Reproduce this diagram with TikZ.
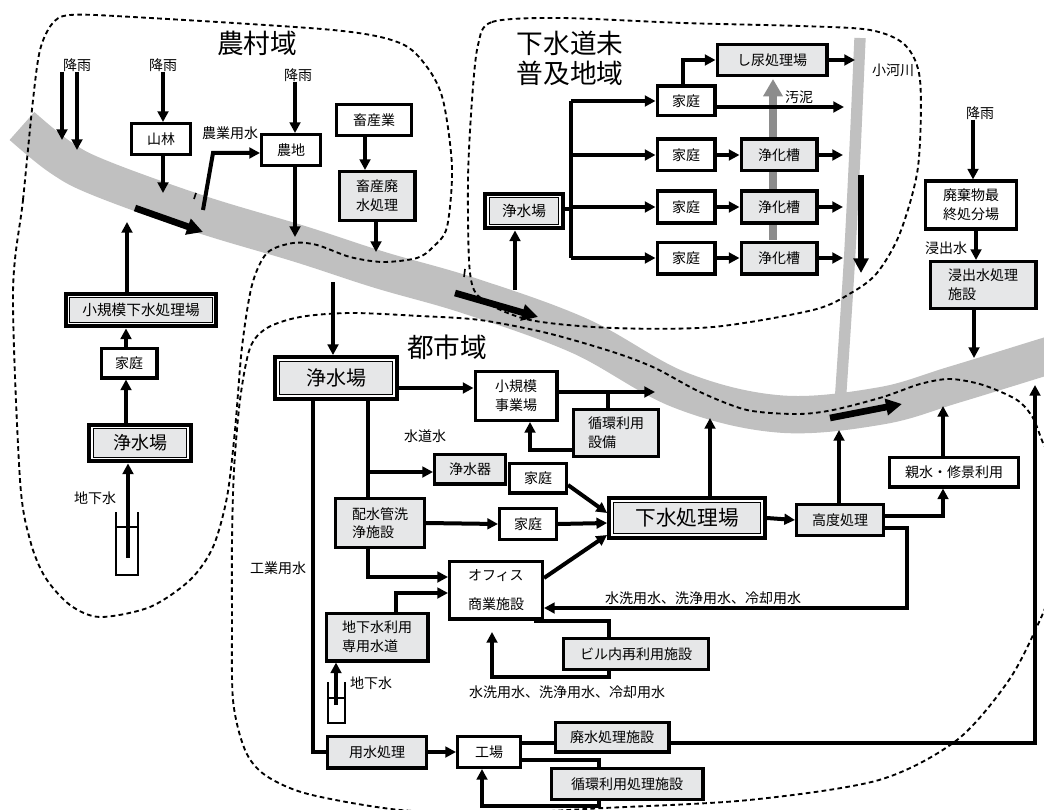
\documentclass[tikz,border=0pt]{standalone}
\usepackage{fontspec}
\setmainfont{Noto Sans CJK JP}
\usetikzlibrary{arrows.meta,calc}
\definecolor{boxgray}{RGB}{230,231,232}
\definecolor{rivergray}{RGB}{192,192,192}
\definecolor{sludgegray}{RGB}{140,140,140}
\tikzset{
  box/.style={draw, line width=2.6pt, inner sep=0pt, align=center, font=\fontsize{10.5}{14}\selectfont},
  wbox/.style={box, fill=white},
  gbox/.style={box, fill=boxgray},
  dbox/.style={gbox, line width=3.2pt, path picture={
      \draw[white,line width=1.2pt] ([shift={(2.2pt,-2.2pt)}]path picture bounding box.north west) rectangle ([shift={(-2.2pt,2.2pt)}]path picture bounding box.south east);
      \draw[black,line width=0.7pt] ([shift={(3.15pt,-3.15pt)}]path picture bounding box.north west) rectangle ([shift={(-3.15pt,3.15pt)}]path picture bounding box.south east);}},
  sz/.style 2 args={minimum width=#1*0.75pt-2.6pt, minimum height=#2*0.75pt-2.6pt},
  lbl/.style={inner sep=0pt, font=\fontsize{10.5}{13}\selectfont},
  ttl/.style={inner sep=0pt, align=left, font=\fontsize{20}{22.5}\selectfont},
  arr/.style={line width=3pt, -{Triangle[length=8pt,width=8pt]}},
  ln/.style={line width=3pt},
  bigarr/.style={line width=5pt, -{Triangle[length=12pt,width=12pt]}},
  bnd/.style={line width=1.4pt, dash pattern=on 3.5pt off 2.5pt},
  wellline/.style={line width=1pt}
}
\begin{document}
\begin{tikzpicture}[x=0.75pt,y=-0.75pt]
\useasboundingbox[fill=white] (0,0) rectangle (1044,809);
% rivers
\draw[rivergray, line width=28pt] plot[smooth, tension=0.6] coordinates {(22,126) (60,157) (100,178) (200,214) (300,244) (380,270) (470,296) (580,336) (680,390) (780,414) (880,406) (953,385) (1044,357) (1064,351)};
\draw[rivergray, line width=8.5pt] plot[smooth] coordinates {(860,38) (855,150) (850,250) (845,330) (840,405)};
% region boundaries
\draw[bnd] plot[smooth cycle] coordinates {(13,293) (23,200) (33,100) (40,50) (52,24) (70,15) (133,17) (333,30) (400,43) (427,67) (443,100) (452,167) (447,227) (433,247) (417,258) (383,262) (350,257) (317,245) (293,243) (267,253) (252,285) (242,347) (235,430) (227,497) (213,547) (190,580) (150,607) (100,617) (70,605) (45,577) (30,540) (20,480)};
\draw[bnd] plot[smooth cycle] coordinates {(478,45) (492,22) (560,18) (683,23) (800,26) (870,30) (905,45) (920,80) (918,167) (900,233) (877,273) (851,293) (813,310) (713,327) (613,328) (530,320) (483,300) (470,273) (468,180) (472,100)};
\draw[bnd] plot[smooth] coordinates {(1060,470) (1044,445) (1033,418) (1017,400) (983,385) (950,379) (920,384) (883,397) (833,410) (797,414) (747,410) (700,392) (655,368) (613,352) (547,333) (480,320) (420,316) (350,313) (300,317) (267,328) (250,348) (240,400) (234,470) (232,540) (232,613) (233,700) (245,750) (265,775) (308,794) (400,810) (500,813) (604,808) (749,800) (879,780) (957,740) (1009,680) (1040,620) (1060,570)};
% sludge arrow (behind boxes)
\draw[sludgegray, line width=6.5pt, -{Triangle[length=13pt,width=14pt]}] (773,240) -- (773,79);
% small ticks
\draw[line width=1.2pt] (196,193) -- (194,199);
\draw[line width=1.2pt] (465,269) -- (464,277);

% ---------- rural ----------
\node[ttl] (t1) at (257,43) {農村域};
\node[lbl] (r1) at (77,65) {降雨};
\node[lbl] (r2) at (163,65) {降雨};
\node[lbl] (r3) at (298,75) {降雨};
\node[lbl] (nouyou) at (230,133) {農業用水};
\node[lbl] (chika1l) at (95,498) {地下水};
\node[wbox, sz={62}{34}] (yama) at (161,139) {山林};
\node[wbox, sz={62}{34}] (nouchi) at (291,150) {農地};
\node[wbox, sz={78}{34}] (chiku) at (374,120) {畜産業};
\node[gbox, sz={79}{52}] (chikuhai) at (377,196) {畜産廃\\水処理};
\node[dbox, sz={154}{36}, font=\fontsize{11}{13}\selectfont] (shoukibo) at (141,310) {小規模下水処理場};
\node[wbox, sz={59}{33}] (katei1) at (129,363) {家庭};
\node[dbox, sz={105}{40}, font=\fontsize{13.5}{16}\selectfont] (jousui1) at (140,443) {浄水場};

\draw[arr] (r1.south -| 62,0) -- (62,140);
\draw[arr] (r1.south -| 77,0) -- (77,150);
\draw[arr] (r2.south -| 163,0) -- (yama.north -| 163,0);
\draw[arr] (yama.south -| 163,0) -- (163,193);
\draw[arr] (203,210) -- (213,153) -- (nouchi.west |- 0,153);
\draw[arr] (r3.south -| 295,0) -- (nouchi.north -| 295,0);
\draw[arr] (nouchi.south -| 295,0) -- (295,237);
\draw[arr] (chiku.south -| 365,0) -- (chikuhai.north -| 365,0);
\draw[arr] (chikuhai.south -| 376,0) -- (376,252);
\draw[arr] (shoukibo.north -| 127,0) -- (127,222);
\draw[arr] (katei1.north -| 126,0) -- (shoukibo.south -| 126,0);
\draw[arr] (jousui1.north -| 126,0) -- (katei1.south -| 126,0);
\draw[wellline] (116,512) -- (116,575) -- (138,575) -- (138,512);
\draw[wellline] (116,527) -- (138,527);
\draw[arr] (128,558) -- (jousui1.south -| 128,0);

% ---------- sewer-less ----------
\node[ttl] (t2) at (570,58) {下水道未\\普及地域};
\node[gbox, sz={113}{34}] (shinyou) at (772,60) {し尿処理場};
\node[wbox, sz={61}{33}] (kateiT) at (686,101) {家庭};
\node[wbox, sz={61}{35}] (kateiR1) at (686,155) {家庭};
\node[gbox, sz={79}{35}] (jokaR1) at (779,155) {浄化槽};
\node[wbox, sz={61}{35}] (kateiR2) at (686,207) {家庭};
\node[gbox, sz={79}{35}] (jokaR2) at (779,207) {浄化槽};
\node[wbox, sz={61}{35}] (kateiR3) at (686,258) {家庭};
\node[gbox, sz={79}{35}] (jokaR3) at (779,258) {浄化槽};
\node[dbox, sz={81}{38}, font=\fontsize{11}{13}\selectfont] (jousui2) at (524,211) {浄水場};
\node[lbl] (oudei) at (799,97) {汚泥};
\node[lbl] (kogawa) at (893,70) {小河川};
\node[lbl] (r4) at (980,113) {降雨};
\node[wbox, sz={94}{51}] (haiki) at (971,205) {廃棄物最\\終処分場};
\node[lbl] (shinshutsul) at (946,248) {浸出水};
\node[gbox, sz={109}{50}, align=left] (shinshutsu) at (983,285) {浸出水処理\\施設};

\draw[ln] (jousui2.east |- 0,209) -- (571,209);
\draw[ln] (571,101) -- (571,258);
\draw[arr] (571,101) -- (kateiT.west);
\draw[arr] (571,155) -- (kateiR1.west);
\draw[arr] (571,207) -- (kateiR2.west);
\draw[arr] (571,258) -- (kateiR3.west);
\draw[arr] (kateiT.north -| 683,0) |- (shinyou.west);
\draw[arr] (kateiT.east |- 0,107) -- (844,107);
\draw[arr] (shinyou.east) -- (855,60);
\draw[arr] (kateiR1.east) -- (jokaR1.west);
\draw[arr] (kateiR2.east) -- (jokaR2.west);
\draw[arr] (kateiR3.east) -- (jokaR3.west);
\draw[arr] (jokaR1.east) -- (843,155);
\draw[arr] (jokaR2.east) -- (843,207);
\draw[arr] (jokaR3.east) -- (843,258);
\draw[arr] (515,290) -- (jousui2.south -| 515,0);
\draw[line width=4pt, -{Triangle[length=11pt,width=11pt]}] (861,175) -- (861,273);
\draw[arr] (r4.south -| 973,0) -- (haiki.north -| 973,0);
\draw[arr] (haiki.south -| 976,0) -- (shinshutsu.north -| 976,0);
\draw[arr] (shinshutsu.south -| 974,0) -- (974,358);

% ---------- urban ----------
\node[ttl] (t3) at (447,347) {都市域};
\node[dbox, sz={125}{45}, font=\fontsize{15}{17}\selectfont] (jousui3) at (336,378) {浄水場};
\node[wbox, sz={85}{52}] (jigyou) at (516,396) {小規模\\事業場};
\node[gbox, sz={88}{50}, align=left] (junkan1) at (616,433) {循環利用\\設備};
\node[gbox, sz={74}{33}] (jousuiki) at (470,469) {浄水器};
\node[wbox, sz={60}{33}] (kateiA) at (538,478) {家庭};
\node[gbox, sz={92}{52}, align=left] (haisui) at (380,523) {配水管洗\\浄施設};
\node[wbox, sz={60}{34}] (kateiB) at (528,524) {家庭};
\node[dbox, sz={159}{43}, font=\fontsize{15.5}{18}\selectfont] (gesui) at (687,518) {下水処理場};
\node[gbox, sz={90}{34}] (koudo) at (840,520) {高度処理};
\node[wbox, sz={132}{33}] (shinsui) at (954,472) {親水・修景利用};
\node[wbox, sz={96}{61}, align=left] (office) at (496,590) {オフィス\\[8pt]商業施設};
\node[gbox, sz={105}{51}, align=left] (chika2) at (377,637) {地下水利用\\専用水道};
\node[gbox, sz={148}{34}] (biru) at (636,654) {ビル内再利用施設};
\node[gbox, sz={102}{35}] (yousui) at (377,752) {用水処理};
\node[wbox, sz={66}{34}] (koujou) at (489,752) {工場};
\node[gbox, sz={117}{33}] (haisuishori) at (612,737) {廃水処理施設};
\node[gbox, sz={155}{34}] (junkan2) at (627,784) {循環利用処理施設};
\node[lbl] (suidou) at (425,436) {水道水};
\node[lbl] (kougyou) at (278,568) {工業用水};
\node[lbl] (sensui1) at (703,598) {水洗用水、洗浄用水、冷却用水};
\node[lbl] (sensui2) at (567,692) {水洗用水、洗浄用水、冷却用水};
\node[lbl] (chika2l) at (371,683) {地下水};

\draw[arr] (333,282) -- (jousui3.north -| 333,0);
\draw[arr] (jousui3.east |- 0,388) -- (jigyou.west |- 0,388);
\draw[arr] (jigyou.east |- 0,392) -- (655,392);
\draw[ln] (608,392) -- (junkan1.north -| 608,0);
\draw[arr] (junkan1.west |- 0,450) -| (jigyou.south -| 530,0);
\draw[ln] (jousui3.south -| 368,0) -- (haisui.north -| 368,0);
\draw[arr] (368,472) -- (jousuiki.west |- 0,472);
\draw[ln] (jousui3.south -| 313,0) |- (yousui.west);
\draw[arr] (kateiA.east |- 0,485) -- (gesui.west |- 0,513);
\draw[arr] (haisui.east) -- (kateiB.west);
\draw[arr] (kateiB.east) -- (gesui.west |- 0,523);
\draw[arr] (haisui.south -| 368,0) |- (office.west |- 0,577);
\draw[arr] (chika2.north -| 396,0) |- (office.west |- 0,593);
\draw[arr] (office.east |- 0,578) -- (gesui.west |- 0,535);
\draw[arr] (gesui.north -| 710,0) -- (710,418);
\draw[arr] (gesui.east) -- (koudo.west);
\draw[arr] (koudo.north -| 839,0) -- (839,430);
\draw[arr] (koudo.east |- 0,516) -| (shinsui.south -| 943,0);
\draw[arr] (shinsui.north -| 943,0) -- (943,406);
\draw[arr] (koudo.east |- 0,528) -| (907,608) -- (office.east |- 0,608);
\draw[ln] (office.south -| 534,0) -| (biru.north -| 609,0);
\draw[arr] (biru.south -| 609,0) -- (609,677) -| (492,632);
\draw[wellline] (328,682) -- (328,723) -- (345,723) -- (345,682);
\draw[wellline] (328,698) -- (345,698);
\draw[arr] (336,705) -- (chika2.south -| 336,0);
\draw[arr] (yousui.east) -- (koujou.west);
\draw[ln] (koujou.east |- 0,743) -- (haisuishori.west |- 0,743);
\draw[arr] (haisuishori.east |- 0,743) -| (1035,385);
\draw[ln] (koujou.east |- 0,760) -| (junkan2.north -| 599,0);
\draw[arr] (junkan2.south -| 599,0) -- (599,806) -| (koujou.south -| 482,0);

% river flow arrows
\draw[bigarr] (135,208) -- (203,232);
\draw[bigarr] (455,293) -- (538,317);
\draw[bigarr] (830,418) -- (902,404);
\end{tikzpicture}
\end{document}
